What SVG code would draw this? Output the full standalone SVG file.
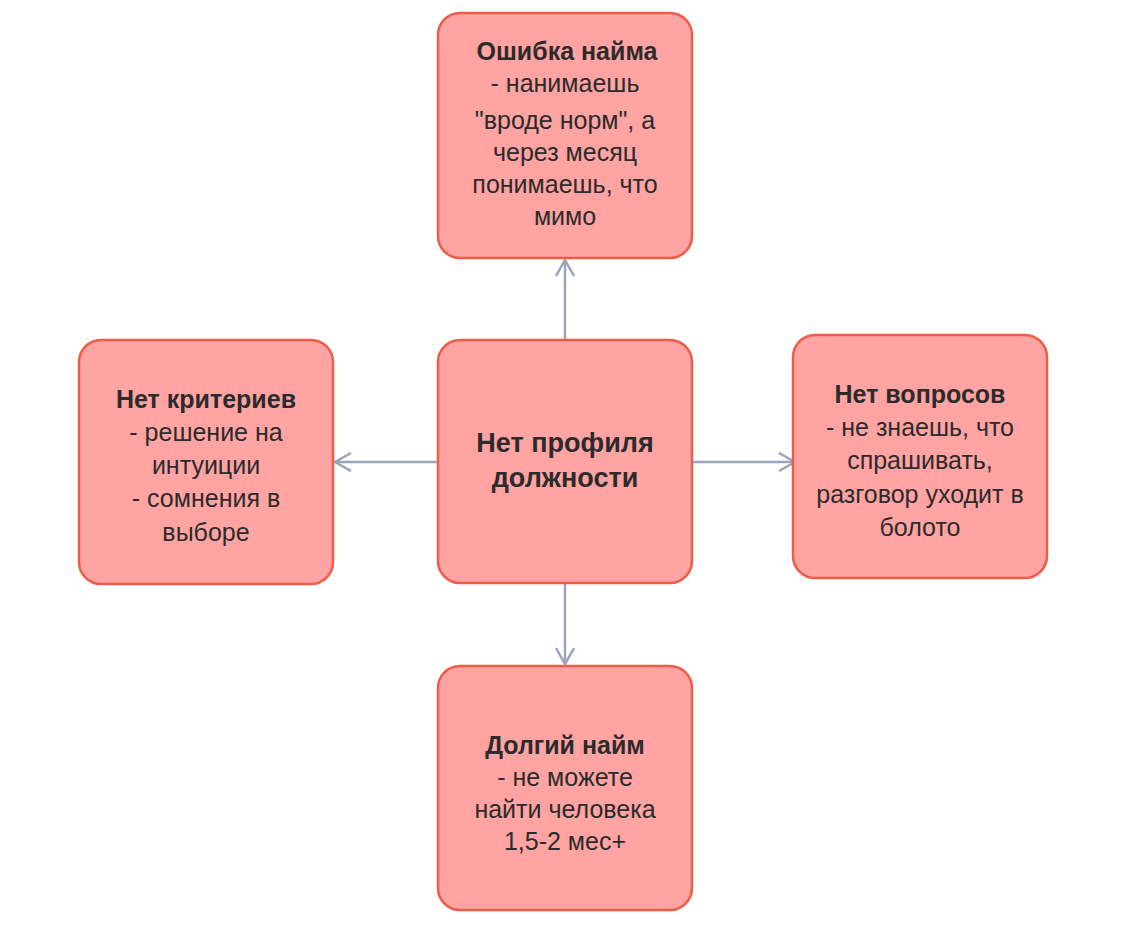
<svg xmlns="http://www.w3.org/2000/svg" width="1122" height="928" viewBox="0 0 1122 928">
<style>
.n{fill:#FFA3A3;stroke:#EE5D47;stroke-width:2.5}
text{font-family:"Liberation Sans",Arial,sans-serif;font-size:25px;fill:#2b2b2b;text-anchor:middle}
.b{font-weight:bold}
.c{stroke:#9CA3BA;stroke-width:2.5;fill:none}
</style>
<defs><marker id="a" viewBox="0 0 20 20" refX="18" refY="10" markerWidth="20" markerHeight="20" markerUnits="userSpaceOnUse" orient="auto"><path d="M2 1L18 10L2 19" fill="none" stroke="#9CA3BA" stroke-width="2.5"/></marker></defs>
<rect width="1122" height="928" fill="#fff"/>
<g id="connectors">
<line class="c" x1="565" y1="340" x2="565" y2="260" marker-end="url(#a)"/>
<line class="c" x1="438" y1="462" x2="335" y2="462" marker-end="url(#a)"/>
<line class="c" x1="692" y1="462" x2="795" y2="462" marker-end="url(#a)"/>
<line class="c" x1="565" y1="583" x2="565" y2="664" marker-end="url(#a)"/>
</g>
<g id="top"><rect class="n" x="438" y="13" width="254" height="245" rx="22"/>
<text x="567" y="60" class="b">Ошибка найма</text><text x="565" y="92">- нанимаешь</text><text x="565" y="129">"вроде норм", а</text><text x="565" y="161">через месяц</text><text x="565" y="193">понимаешь, что</text><text x="565" y="225">мимо</text></g>
<g id="center"><rect class="n" x="438" y="340" width="254" height="243" rx="22"/>
<text x="565" y="452" class="b" style="font-size:27px">Нет профиля</text><text x="565" y="487" class="b" style="font-size:27px">должности</text></g>
<g id="left"><rect class="n" x="79" y="340" width="254" height="244" rx="22"/>
<text x="206" y="408" class="b">Нет критериев</text><text x="206" y="441">- решение на</text><text x="206" y="474">интуиции</text><text x="206" y="507">- сомнения в</text><text x="206" y="541">выборе</text></g>
<g id="right"><rect class="n" x="793" y="335" width="254" height="243" rx="22"/>
<text x="920" y="403" class="b">Нет вопросов</text><text x="920" y="436">- не знаешь, что</text><text x="920" y="469">спрашивать,</text><text x="920" y="503">разговор уходит в</text><text x="920" y="536">болото</text></g>
<g id="bottom"><rect class="n" x="438" y="666" width="254" height="244" rx="22"/>
<text x="565" y="754" class="b">Долгий найм</text><text x="565" y="786">- не можете</text><text x="565" y="818">найти человека</text><text x="565" y="850">1,5-2 мес+</text></g>
</svg>
